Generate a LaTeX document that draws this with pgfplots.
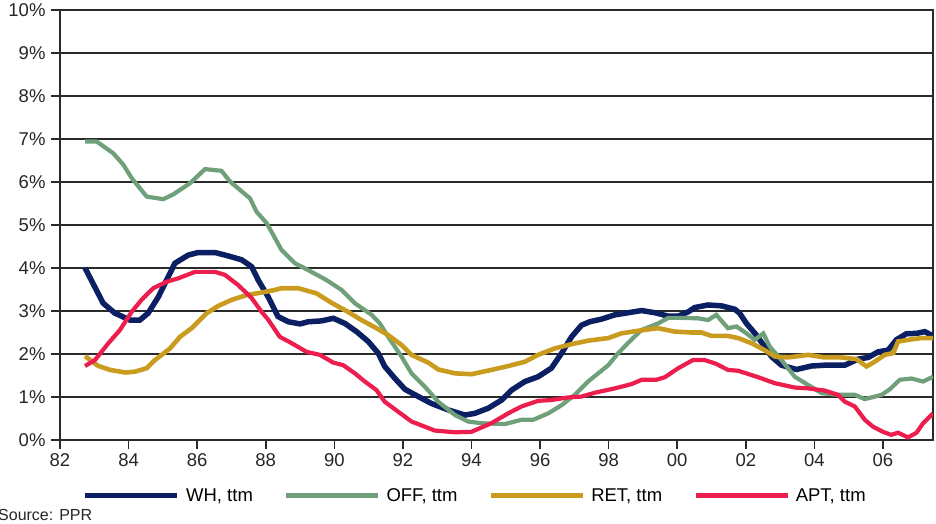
\documentclass[border=0pt]{standalone}
\usepackage{pgfplots}
\pgfplotsset{compat=1.18}
\usepackage{fontspec}
\setmainfont{Liberation Sans}
\definecolor{whc}{HTML}{0B1F63}
\definecolor{offc}{HTML}{6FA07A}
\definecolor{retc}{HTML}{C99B1E}
\definecolor{aptc}{HTML}{EC1E4E}
\definecolor{gridc}{HTML}{2A2A2A}
\begin{document}
\begin{tikzpicture}
\useasboundingbox (-60pt,-84pt) rectangle (876pt,440pt);
\begin{axis}[
  at={(0pt,0pt)}, anchor=south west,
  scale only axis, width=873pt, height=430pt,
  xmin=82, xmax=107.46, ymin=0, ymax=10,
  xtick={82,84,...,106},
  xticklabels={82,84,86,88,90,92,94,96,98,00,02,04,06},
  ytick={0,1,...,10},
  yticklabels={0\%,1\%,2\%,3\%,4\%,5\%,6\%,7\%,8\%,9\%,10\%},
  tick pos=left, tick align=outside,
  major tick length=9pt,
  tick style={line width=1.6pt, color=gridc},
  ymajorgrids,
  major grid style={line width=1.3pt, color=gridc},
  axis line style={line width=2.8pt, color=gridc},
  ticklabel style={font=\fontsize{18.5}{21}\selectfont, color=black!85},
  yticklabel style={xshift=-2pt},
  xticklabel style={yshift=-1pt},
  every plot/.append style={line join=round},
  legend columns=4,
  legend style={at={(0.026,-0.108)}, anchor=north west, draw=none, fill=none,
    font=\fontsize{18.5}{21}\selectfont,
    /tikz/every even column/.append style={column sep=29pt},
    inner sep=0pt},
  legend image code/.code={\draw[#1,line width=5pt] (0pt,0pt) -- (92pt,0pt); \path (96pt,0pt);},
]
\addplot[whc, line width=5.5pt] coordinates {
(82.73,4.00)(83.26,3.18)(83.60,2.95)(84.04,2.79)(84.33,2.79)(84.57,2.95)(84.87,3.33)(85.16,3.80)(85.35,4.11)(85.74,4.30)(86.03,4.36)(86.52,4.36)(86.91,4.28)(87.30,4.19)(87.59,4.03)(87.78,3.72)(88.07,3.33)(88.36,2.87)(88.66,2.75)(89.00,2.70)(89.24,2.75)(89.63,2.77)(89.97,2.83)(90.31,2.71)(90.65,2.52)(90.99,2.29)(91.28,2.02)(91.47,1.71)(91.77,1.43)(92.06,1.18)(92.45,1.01)(92.83,0.85)(93.32,0.70)(93.81,0.58)(94.10,0.62)(94.49,0.74)(94.88,0.93)(95.17,1.16)(95.56,1.36)(95.94,1.47)(96.33,1.67)(96.63,2.02)(96.92,2.40)(97.21,2.67)(97.45,2.75)(97.79,2.81)(98.18,2.91)(98.57,2.96)(98.96,3.01)(99.35,2.96)(99.74,2.88)(100.03,2.88)(100.32,2.98)(100.51,3.08)(100.90,3.14)(101.29,3.12)(101.68,3.04)(101.82,2.95)(102.02,2.71)(102.31,2.44)(102.55,2.17)(102.75,1.94)(103.04,1.74)(103.48,1.64)(103.91,1.72)(104.30,1.74)(104.89,1.74)(105.27,1.88)(105.57,1.92)(105.86,2.05)(106.15,2.09)(106.39,2.33)(106.68,2.47)(106.98,2.48)(107.22,2.52)(107.46,2.42)
};
\addlegendentry{WH, ttm}
\addplot[offc, line width=4.2pt] coordinates {
(82.73,6.94)(83.07,6.94)(83.55,6.67)(83.85,6.40)(84.09,6.09)(84.53,5.66)(85.01,5.60)(85.30,5.71)(85.79,5.97)(86.23,6.30)(86.71,6.26)(86.96,6.01)(87.54,5.62)(87.73,5.31)(88.03,5.04)(88.46,4.42)(88.85,4.11)(89.24,3.95)(89.77,3.72)(90.21,3.49)(90.60,3.18)(91.09,2.91)(91.33,2.71)(91.57,2.40)(91.96,1.94)(92.25,1.55)(92.64,1.24)(93.03,0.89)(93.52,0.58)(93.90,0.43)(94.29,0.39)(94.97,0.37)(95.46,0.47)(95.80,0.47)(96.24,0.62)(96.63,0.81)(97.01,1.05)(97.40,1.36)(97.99,1.74)(98.28,2.02)(98.57,2.26)(98.96,2.56)(99.44,2.71)(99.74,2.84)(100.12,2.84)(100.61,2.83)(100.90,2.79)(101.14,2.91)(101.48,2.60)(101.73,2.64)(102.02,2.48)(102.26,2.33)(102.51,2.48)(102.70,2.17)(103.04,1.86)(103.43,1.47)(103.82,1.28)(104.21,1.09)(104.69,1.05)(105.18,1.05)(105.47,0.95)(105.96,1.05)(106.20,1.18)(106.49,1.40)(106.83,1.43)(107.17,1.36)(107.46,1.47)
};
\addlegendentry{OFF, ttm}
\addplot[retc, line width=4.6pt] coordinates {
(82.73,1.95)(83.12,1.72)(83.46,1.63)(83.90,1.57)(84.19,1.59)(84.53,1.67)(84.77,1.86)(85.21,2.13)(85.50,2.40)(85.84,2.60)(86.28,2.95)(86.62,3.12)(87.01,3.26)(87.44,3.37)(87.88,3.43)(88.27,3.49)(88.46,3.53)(88.95,3.53)(89.48,3.41)(89.92,3.19)(90.40,2.98)(90.79,2.79)(91.23,2.60)(91.57,2.44)(91.96,2.21)(92.25,1.98)(92.74,1.80)(93.03,1.64)(93.52,1.55)(94.00,1.53)(94.58,1.63)(95.07,1.72)(95.56,1.82)(95.94,1.98)(96.43,2.13)(96.92,2.23)(97.40,2.31)(97.99,2.37)(98.37,2.48)(98.86,2.54)(99.44,2.60)(99.93,2.52)(100.42,2.50)(100.71,2.50)(101.00,2.42)(101.48,2.42)(101.78,2.37)(102.17,2.25)(102.55,2.09)(102.85,1.94)(103.23,1.92)(103.82,1.98)(104.30,1.92)(104.79,1.92)(105.23,1.88)(105.52,1.71)(105.76,1.82)(106.05,1.98)(106.30,2.02)(106.44,2.29)(106.83,2.34)(107.12,2.37)(107.46,2.37)
};
\addlegendentry{RET, ttm}
\addplot[aptc, line width=4.2pt] coordinates {
(82.73,1.72)(83.02,1.86)(83.41,2.25)(83.75,2.56)(84.09,2.98)(84.38,3.26)(84.72,3.53)(85.11,3.68)(85.45,3.76)(85.94,3.91)(86.52,3.91)(86.81,3.84)(87.20,3.60)(87.59,3.30)(87.88,2.98)(88.07,2.80)(88.41,2.40)(88.76,2.25)(89.19,2.05)(89.58,1.98)(89.97,1.80)(90.26,1.74)(90.60,1.55)(90.89,1.36)(91.23,1.16)(91.47,0.89)(91.86,0.66)(92.25,0.43)(92.93,0.22)(93.52,0.18)(94.00,0.19)(94.58,0.39)(95.07,0.62)(95.46,0.78)(95.94,0.91)(96.33,0.93)(96.82,0.99)(97.21,1.01)(97.60,1.10)(98.18,1.20)(98.67,1.30)(98.96,1.40)(99.39,1.40)(99.64,1.46)(100.03,1.67)(100.46,1.86)(100.80,1.86)(101.14,1.77)(101.48,1.63)(101.78,1.61)(102.36,1.46)(102.85,1.32)(103.43,1.22)(103.82,1.20)(104.30,1.15)(104.69,1.05)(104.89,0.89)(105.18,0.78)(105.47,0.47)(105.71,0.31)(106.00,0.19)(106.24,0.12)(106.44,0.17)(106.73,0.06)(106.98,0.17)(107.17,0.39)(107.46,0.62)
};
\addlegendentry{APT, ttm}
\end{axis}
\node[anchor=base west, inner sep=0pt, font=\fontsize{16}{18}\selectfont, color=black!85] at (-62pt,-80pt) {Source: PPR};
\end{tikzpicture}
\end{document}
